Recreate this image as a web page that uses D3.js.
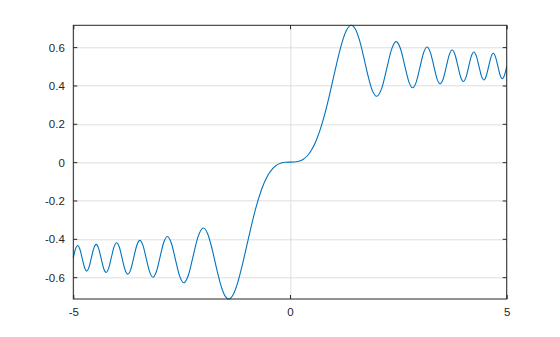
<!DOCTYPE html>
<html>
<head>
<meta charset="utf-8">
<script src="https://cdn.jsdelivr.net/npm/d3@7"></script>
<style>
  body { margin: 0; background: #fff; }
  .tick text { font-family: "Liberation Sans", Arial, sans-serif; font-size: 11.5px; fill: #262626; }
</style>
</head>
<body>
<div class="chart"></div>
<script>
// curve (left half then right half)
var xValues = [
  -5.0, -4.950, -4.899, -4.848, -4.796, -4.743, -4.690, -4.637, -4.583, -4.528,
  -4.472, -4.416, -4.359, -4.301, -4.243, -4.183, -4.123, -4.062, -4.0, -3.937,
  -3.873, -3.808, -3.742, -3.674, -3.606, -3.536, -3.464, -3.391, -3.317, -3.240,
  -3.162, -3.082, -3.0, -2.916, -2.828, -2.739, -2.646, -2.550, -2.449, -2.345,
  -2.236, -2.121, -2.0, -1.9, -1.8, -1.7, -1.6, -1.5, -1.414, -1.3,
  -1.2, -1.1, -1.0, -0.9, -0.8, -0.7, -0.6, -0.5, -0.4, -0.3,
  -0.2, -0.1,
  0,
  0.1, 0.2, 0.3, 0.4, 0.5, 0.6, 0.7, 0.8, 0.9, 1.0,
  1.1, 1.2, 1.3, 1.414, 1.5, 1.6, 1.7, 1.8, 1.9, 2.0,
  2.121, 2.236, 2.345, 2.449, 2.550, 2.646, 2.739, 2.828, 2.916, 3.0,
  3.082, 3.162, 3.240, 3.317, 3.391, 3.464, 3.536, 3.606, 3.674, 3.742,
  3.808, 3.873, 3.937, 4.0, 4.062, 4.123, 4.183, 4.243, 4.301, 4.359,
  4.416, 4.472, 4.528, 4.583, 4.637, 4.690, 4.743, 4.796, 4.848, 4.899,
  4.950, 5.0
];
var yValues = [
  -0.4992, -0.4540, -0.4351, -0.4542, -0.5009, -0.5481, -0.5678, -0.5478, -0.4990, -0.4496,
  -0.4289, -0.4499, -0.5012, -0.5532, -0.5750, -0.5528, -0.4986, -0.4436, -0.4205, -0.4441,
  -0.5017, -0.5603, -0.5849, -0.5597, -0.4979, -0.4349, -0.4083, -0.4356, -0.5027, -0.5713,
  -0.6004, -0.5704, -0.4963, -0.4203, -0.3880, -0.4217, -0.5053, -0.5918, -0.6289, -0.5897,
  -0.4915, -0.3885, -0.3434, -0.3733, -0.4509, -0.5492, -0.6389, -0.6975, -0.7139, -0.6863,
  -0.6234, -0.5365, -0.4383, -0.3398, -0.2493, -0.1721, -0.1105, -0.0647, -0.0334, -0.0141,
  -0.0042, -0.0005,
  0,
  0.0005, 0.0042, 0.0141, 0.0334, 0.0647, 0.1105, 0.1721, 0.2493, 0.3398, 0.4383,
  0.5365, 0.6234, 0.6863, 0.7139, 0.6975, 0.6389, 0.5492, 0.4509, 0.3733, 0.3434,
  0.3885, 0.4915, 0.5897, 0.6289, 0.5918, 0.5053, 0.4217, 0.3880, 0.4203, 0.4963,
  0.5704, 0.6004, 0.5713, 0.5027, 0.4356, 0.4083, 0.4349, 0.4979, 0.5597, 0.5849,
  0.5603, 0.5017, 0.4441, 0.4205, 0.4436, 0.4986, 0.5528, 0.5750, 0.5532, 0.5012,
  0.4499, 0.4289, 0.4496, 0.4990, 0.5478, 0.5678, 0.5481, 0.5009, 0.4542, 0.4351,
  0.4540, 0.4992
];
var xTicks = [-5, 0, 5];
var yTicks = [-0.6, -0.4, -0.2, 0, 0.2, 0.4, 0.6];

var margin = {top: 25.3, right: 53.3, bottom: 38, left: 73.3},
    width = 560 - margin.left - margin.right,
    height = 337 - margin.top - margin.bottom;

var points = xValues.map(function(d, i) { return [d, yValues[i]]; });

var x = d3.scaleLinear().domain(d3.extent(xValues)).range([0, width]);
var yMax = d3.max(yValues, function(d) { return Math.abs(d); });
var y = d3.scaleLinear().domain([-yMax, yMax]).range([height, 0]);

// plain hyphen for negatives, like the original labels
var fmt = function(d) { return d === 0 ? "0" : d3.format(".1f")(d).replace("\u2212", "-"); };

var svg = d3.select(".chart").append("svg")
    .attr("width", 560)
    .attr("height", 337)
  .append("g")
    .attr("transform", "translate(" + margin.left + "," + margin.top + ")");

// grid
svg.append("g").selectAll("line")
    .data(yTicks)
    .enter().append("line")
    .attr("x1", 0).attr("x2", width)
    .attr("y1", function(d) { return Math.round(y(d)) + 0.5; })
    .attr("y2", function(d) { return Math.round(y(d)) + 0.5; })
    .attr("stroke", "#dedede");
svg.append("g").selectAll("line")
    .data(xTicks)
    .enter().append("line")
    .attr("y1", 0).attr("y2", height)
    .attr("x1", function(d) { return Math.round(x(d)) + 0.5; })
    .attr("x2", function(d) { return Math.round(x(d)) + 0.5; })
    .attr("stroke", "#dedede");

var line = d3.line()
    .x(function(d) { return x(d[0]); })
    .y(function(d) { return y(d[1]); })
    .curve(d3.curveMonotoneX);

svg.append("path")
    .datum(points)
    .attr("fill", "none")
    .attr("stroke", "#0072BD")
    .attr("stroke-width", 1.1)
    .attr("d", line);

// axes, ticks pointing inward like the original
function styleAxis(g) {
  g.select(".domain").remove();
  g.selectAll(".tick line").attr("stroke", "#262626");
}

svg.append("g")
    .attr("transform", "translate(0," + height + ")")
    .call(d3.axisBottom(x).tickValues(xTicks).tickSizeInner(-4).tickSizeOuter(0).tickPadding(9)
      .tickFormat(function(d) { return String(d).replace("\u2212", "-"); }))
    .call(styleAxis);
svg.append("g")
    .call(d3.axisTop(x).tickValues(xTicks).tickSizeInner(-4).tickSizeOuter(0).tickFormat(""))
    .call(styleAxis);
svg.append("g")
    .call(d3.axisLeft(y).tickValues(yTicks).tickSizeInner(-4).tickSizeOuter(0).tickPadding(8.5).tickFormat(fmt))
    .call(styleAxis)
    .selectAll(".tick text").attr("dy", "0.36em");
svg.append("g")
    .attr("transform", "translate(" + width + ",0)")
    .call(d3.axisRight(y).tickValues(yTicks).tickSizeInner(-4).tickSizeOuter(0).tickFormat(""))
    .call(styleAxis);

// box
svg.append("rect")
    .attr("width", width)
    .attr("height", height)
    .attr("fill", "none")
    .attr("stroke", "#262626")
    .attr("stroke-width", 1);
</script>
</body>
</html>
